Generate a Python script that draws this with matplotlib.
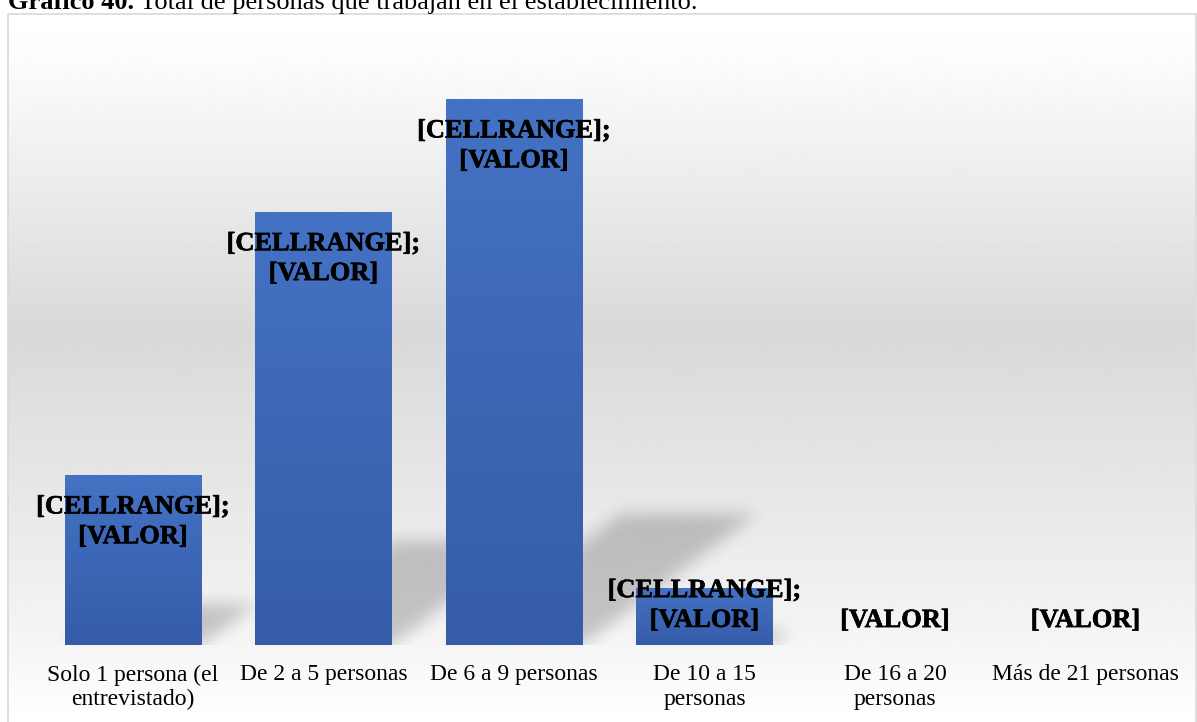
import numpy as np
import matplotlib

matplotlib.use("Agg")
import matplotlib.pyplot as plt
import matplotlib.patheffects as pe
from matplotlib.colors import LinearSegmentedColormap
from matplotlib.patches import Rectangle

categories = [
    "Solo 1 persona (el\nentrevistado)",
    "De 2 a 5 personas",
    "De 6 a 9 personas",
    "De 10 a 15\npersonas",
    "De 16 a 20\npersonas",
    "Más de 21 personas",
]
counts = [9, 23, 29, 3, 0, 0]
point_labels = ["[CELLRANGE];\n[VALOR]"] * 4 + ["[VALOR]"] * 2

TITLE_BOLD = "Gráfico 40."
TITLE_REST = " Total de personas que trabajan en el establecimiento."

W, H = 1197, 722
SERIF = ["Liberation Serif", "DejaVu Serif"]
BAR_W = 0.714
YMAX = 32


def blur(a, s):
    """Separable gaussian blur, plain numpy."""
    r = int(3 * s)
    k = np.exp(-0.5 * (np.arange(-r, r + 1) / s) ** 2)
    k /= k.sum()
    a = np.apply_along_axis(lambda m: np.convolve(m, k, mode="same"), 0, a)
    return np.apply_along_axis(lambda m: np.convolve(m, k, mode="same"), 1, a)


fig = plt.figure(figsize=(W / 100, H / 100), dpi=100)

# backdrop: chart frame with the vertical white-grey-white fill, in pixel units
bg = fig.add_axes([0, 0, 1, 1])
bg.set_xlim(0, W)
bg.set_ylim(H, 0)
bg.axis("off")
fx0, fy0 = 7.5, 13.5
ramp = np.interp(np.linspace(0, 1, 500), [0, 0.06, 0.45, 0.85, 1], [1.0, 0.99, 0.85, 0.95, 1.0])
bg.imshow(ramp[:, None], cmap="gray", vmin=0, vmax=1, aspect="auto",
          extent=(fx0, W - 1.5, H, fy0), origin="upper", zorder=0)
bg.add_patch(Rectangle((fx0, fy0), W - 1.5 - fx0, H - fy0 + 5, fill=False,
                       edgecolor="#d9d9d9", lw=1.2, zorder=1))
t1 = bg.text(8, 9, TITLE_BOLD, fontsize=19, fontweight="bold", family=SERIF,
             va="baseline", ha="left", zorder=3)
bg.annotate(TITLE_REST, xy=(1, 0), xycoords=t1, va="bottom", ha="left",
            fontsize=19, family=SERIF, zorder=3)

# plot area
base_px, unit_px = 645, 18.8
left_px, slot_px = 133 - 190.5 / 2, 190.5
ax = fig.add_axes([left_px / W, (H - base_px) / H, slot_px * 6 / W, YMAX * unit_px / H])
ax.set_facecolor("none")
for s in ax.spines.values():
    s.set_visible(False)

x = np.arange(len(counts))

# soft perspective shadows thrown up and to the right of each bar
nx, ny = int(slot_px * 6), int(YMAX * unit_px)
gx = -0.5 + (np.arange(nx) + 0.5) / nx * 6
gy = (np.arange(ny) + 0.5) / ny * YMAX
GX, GY = np.meshgrid(gx, gy)
mask = np.zeros_like(GX)
for xi, v in zip(x, counts):
    if v <= 0:
        continue
    sh = 0.24 * v
    dx = 0.0315 * v
    t = GY / sh
    inside = (t >= 0) & (t <= 1) & (np.abs(GX - (xi + t * dx)) <= BAR_W / 2)
    mask = np.maximum(mask, inside.astype(float))
mask = blur(mask, 8)
shadow = np.zeros((ny, nx, 4))
shadow[..., 3] = 0.2 * mask
ax.imshow(shadow, extent=(-0.5, 5.5, 0, YMAX), origin="lower", aspect="auto", zorder=1)

# bars, each filled with a top-to-bottom blue gradient
bars = ax.bar(x, counts, width=BAR_W, color="none", edgecolor="none", zorder=2)
bar_cmap = LinearSegmentedColormap.from_list("bar", ["#365ca8", "#4472c4"])
grad = np.linspace(0, 1, 256)[:, None]
for p in bars:
    if p.get_height() <= 0:
        continue
    ax.imshow(grad, cmap=bar_cmap, aspect="auto", origin="lower", zorder=2,
              extent=(p.get_x(), p.get_x() + p.get_width(), 0, p.get_height()))

# data labels at the inside end
heavy = [pe.withStroke(linewidth=0.45, foreground="black")]
for xi, v, lab in zip(x, counts, point_labels):
    if "\n" in lab:
        y = max(v - 2.45, 2.1)
    else:
        y = 1.3
    ax.text(xi, y, lab, ha="center", va="center", fontsize=19, fontweight="bold",
            family=SERIF, linespacing=1.38, zorder=4, path_effects=heavy)

ax.set_xticks(x, categories, fontsize=17, family=SERIF)
ax.tick_params(axis="x", length=0, pad=14)
ax.set_yticks([])
ax.set_xlim(-0.5, 5.5)
ax.set_ylim(0, YMAX)

fig.savefig("out.png", dpi=100)
